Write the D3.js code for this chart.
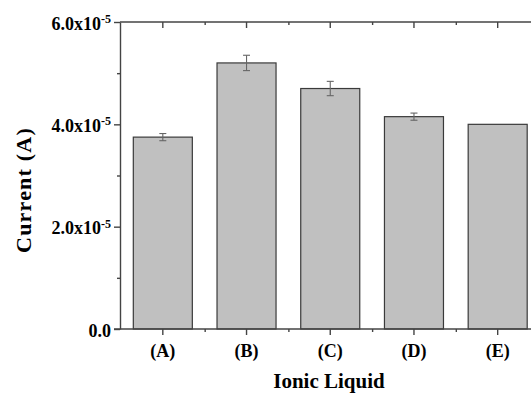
<!DOCTYPE html>
<html>
<head>
<meta charset="utf-8">
<script src="https://cdn.jsdelivr.net/npm/d3@7"></script>
<style>
  body { margin: 0; background: #fff; }
  svg { display: block; }
  .axis path, .axis line { stroke: #444; stroke-width: 1.4; }
  .axis text { font-family: "Liberation Serif", "Times New Roman", serif; font-weight: bold; font-size: 18px; fill: #000; }
</style>
</head>
<body>
<div id="chart"></div>
<script>
// data
var liquids = ["(A)", "(B)", "(C)", "(D)", "(E)"];
var currents = [3.75e-5, 5.20e-5, 4.70e-5, 4.15e-5, 4.00e-5];
var errors = [0.07e-5, 0.15e-5, 0.14e-5, 0.07e-5, 0];
var yTicks = [0, 2e-5, 4e-5, 6e-5];
var yMinor = [1e-5, 3e-5, 5e-5];

var width = 531, height = 393;
var plot = { left: 120, top: 22, bottom: 329, right: 540 };

var svg = d3.select("#chart").append("svg")
  .attr("width", width)
  .attr("height", height);

var x = d3.scaleBand()
  .domain(liquids)
  .range([121, 539.5])
  .paddingInner(0.295)
  .paddingOuter(0.147);

var y = d3.scaleLinear()
  .domain([0, 6e-5])
  .range([plot.bottom, plot.top]);

// bars
svg.selectAll("rect.bar")
  .data(liquids)
  .enter()
  .append("rect")
  .attr("class", "bar")
  .attr("x", function(d) { return x(d); })
  .attr("y", function(d, i) { return y(currents[i]); })
  .attr("width", x.bandwidth())
  .attr("height", function(d, i) { return y(0) - y(currents[i]); })
  .attr("fill", "#c0c0c0")
  .attr("stroke", "#3a3a3a")
  .attr("stroke-width", 1.2);

// error bars
var eb = svg.selectAll("g.err")
  .data(liquids.filter(function(d, i) { return errors[i] > 0; }))
  .enter()
  .append("g")
  .attr("class", "err")
  .attr("stroke", "#666")
  .attr("stroke-width", 1.1);
function idx(d) { return liquids.indexOf(d); }
function cx(d) { return x(d) + x.bandwidth() / 2; }
eb.append("line")
  .attr("x1", cx).attr("x2", cx)
  .attr("y1", function(d) { return y(currents[idx(d)] + errors[idx(d)]); })
  .attr("y2", function(d) { return y(currents[idx(d)] - errors[idx(d)]); });
eb.append("line")
  .attr("x1", function(d) { return cx(d) - 3.5; }).attr("x2", function(d) { return cx(d) + 3.5; })
  .attr("y1", function(d) { return y(currents[idx(d)] + errors[idx(d)]); })
  .attr("y2", function(d) { return y(currents[idx(d)] + errors[idx(d)]); });
eb.append("line")
  .attr("x1", function(d) { return cx(d) - 3.5; }).attr("x2", function(d) { return cx(d) + 3.5; })
  .attr("y1", function(d) { return y(currents[idx(d)] - errors[idx(d)]); })
  .attr("y2", function(d) { return y(currents[idx(d)] - errors[idx(d)]); });

// Y axis (major)
var yAxis = svg.append("g")
  .attr("class", "axis")
  .attr("transform", "translate(" + plot.left + ",0)")
  .call(d3.axisLeft(y).tickValues(yTicks).tickSize(6).tickSizeOuter(0).tickPadding(3).tickFormat(""));
yAxis.selectAll(".tick text")
  .attr("dy", "0.4em")
  .each(function(d) {
    var t = d3.select(this);
    if (d === 0) {
      t.text("0.0");
    } else {
      t.text((d / 1e-5).toFixed(1) + "x10");
      t.append("tspan")
        .attr("dy", "-0.55em")
        .style("font-size", "12px")
        .text("-5");
    }
  });
// Y minor ticks
svg.append("g")
  .attr("class", "axis")
  .attr("transform", "translate(" + plot.left + ",0)")
  .call(d3.axisLeft(y).tickValues(yMinor).tickSize(3).tickSizeOuter(0).tickFormat(""))
  .select(".domain").remove();

// X axis
var xMinorVals = liquids.slice(0, 4).map(function(d, i) { return (cx(d) + cx(liquids[i + 1])) / 2; });
var xAxis = svg.append("g")
  .attr("class", "axis")
  .attr("transform", "translate(0," + plot.bottom + ")")
  .call(d3.axisBottom(x).tickSize(6).tickSizeOuter(0).tickPadding(9));
xAxis.select(".domain").attr("d", "M" + (plot.left - 6) + ",0H" + plot.right);
var xMin = d3.scaleLinear().domain([0, 1]).range([0, 1]);
svg.append("g")
  .attr("class", "axis")
  .attr("transform", "translate(0," + plot.bottom + ")")
  .call(d3.axisBottom(xMin).tickValues(xMinorVals).tickSize(3).tickFormat(""))
  .select(".domain").remove();

// top axis (frame)
var topAxis = svg.append("g")
  .attr("class", "axis")
  .attr("transform", "translate(0," + plot.top + ")")
  .call(d3.axisTop(x).tickSize(-6).tickSizeOuter(0).tickFormat(""));
topAxis.select(".domain").attr("d", "M" + plot.left + ",0H" + plot.right);
svg.append("g")
  .attr("class", "axis")
  .attr("transform", "translate(0," + plot.top + ")")
  .call(d3.axisTop(xMin).tickValues(xMinorVals).tickSize(-3).tickFormat(""))
  .select(".domain").remove();

// axis titles
svg.append("text")
  .attr("x", 329)
  .attr("y", 388)
  .attr("text-anchor", "middle")
  .style("font-family", "'Liberation Serif', 'Times New Roman', serif")
  .style("font-weight", "bold")
  .style("font-size", "21px")
  .text("Ionic Liquid");

svg.append("text")
  .attr("transform", "translate(31," + 190 + ")rotate(-90)")
  .attr("text-anchor", "middle")
  .style("font-family", "'Liberation Serif', 'Times New Roman', serif")
  .style("font-weight", "bold")
  .style("font-size", "22px")
  .style("letter-spacing", "1.2px")
  .text("Current (A)");
</script>
</body>
</html>
